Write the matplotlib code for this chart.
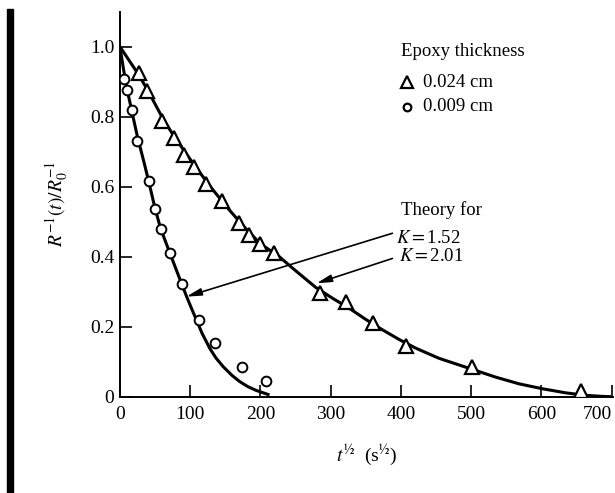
import numpy as np
import matplotlib
matplotlib.use("Agg")
import matplotlib.pyplot as plt
from matplotlib.patches import Rectangle

plt.rcParams['font.family'] = ['Liberation Serif', 'DejaVu Serif']
plt.rcParams['mathtext.fontset'] = 'stix'

# measured points, epoxy 0.024 cm (triangles)
tri_x = [27, 39, 60, 77, 91, 106, 123, 146, 169, 184, 200, 219, 285, 322, 360, 407, 501, 657]
tri_y = [0.925, 0.874, 0.789, 0.740, 0.690, 0.655, 0.608, 0.559, 0.495, 0.462, 0.435, 0.410,
         0.295, 0.270, 0.210, 0.145, 0.086, 0.017]

# measured points, epoxy 0.009 cm (circles)
circ_x = [6, 10, 17, 25, 41, 50, 58, 71, 88, 113, 136, 174, 208]
circ_y = [0.907, 0.876, 0.819, 0.731, 0.617, 0.535, 0.478, 0.412, 0.321, 0.219, 0.153, 0.084, 0.046]

# theory curves
k201_x = [0, 26, 40, 61, 78, 109, 132, 156, 178, 200, 227, 246, 279, 303, 327, 350, 374, 398,
          421, 454, 502, 535, 568, 601, 635, 663, 686, 700]
k201_y = [1.0, 0.922, 0.874, 0.795, 0.741, 0.653, 0.592, 0.533, 0.483, 0.437, 0.400, 0.367,
          0.312, 0.281, 0.252, 0.221, 0.191, 0.163, 0.139, 0.110, 0.078, 0.056, 0.037, 0.023,
          0.011, 0.004, 0.001, 0.0]
k152_x = [0, 5, 10, 17, 25, 34, 41, 50, 58, 71, 88, 95, 102, 109, 117, 128, 137, 147, 159, 170,
          182, 194, 213]
k152_y = [1.0, 0.937, 0.88, 0.815, 0.742, 0.672, 0.615, 0.538, 0.480, 0.411, 0.322, 0.286, 0.252,
          0.219, 0.181, 0.138, 0.110, 0.086, 0.062, 0.044, 0.029, 0.018, 0.005]

xticks = [0, 100, 200, 300, 400, 500, 600, 700]
yticks = [0, 0.2, 0.4, 0.6, 0.8, 1.0]
ytick_labels = ['0', '0.2', '0.4', '0.6', '0.8', '1.0']

fig = plt.figure(figsize=(6.15, 4.93), dpi=100)
ax = fig.add_axes([0.195, 0.1953, 0.8016, 0.781])

ax.plot(k201_x, k201_y, color='black', lw=2.2, solid_capstyle='butt', solid_joinstyle='round', zorder=2)
ax.plot(k152_x, k152_y, color='black', lw=2.2, solid_capstyle='butt', solid_joinstyle='round', zorder=2)
ax.plot(tri_x, tri_y, ls='none', marker='^', ms=10, mfc='white', mec='black', mew=1.6, zorder=3)
ax.plot(circ_x, circ_y, ls='none', marker='o', ms=7, mfc='white', mec='black', mew=1.4, zorder=3)

ax.set_xlim(0, 702)
ax.set_ylim(0, 1.1)
ax.set_xticks(xticks)
ax.set_yticks(yticks)
ax.set_yticklabels(ytick_labels)
ax.tick_params(direction='in', length=8.5, width=1.2, labelsize=14)
ax.tick_params(axis='x', pad=7)
ax.tick_params(axis='y', pad=4)
# last x label sits against the right edge
ax.get_xticklabels()[-1].set_horizontalalignment('right')
for s in ['top', 'right']:
    ax.spines[s].set_visible(False)
for s in ['left', 'bottom']:
    ax.spines[s].set_linewidth(1.4)

ax.set_xlabel(r'$t^{½}$  (s$^{½}$)', fontsize=14)
ax.xaxis.set_label_coords(0.5, -0.12)
ax.set_ylabel(r'$R^{-1}(t)/R_0^{-1}$', fontsize=14)
ax.yaxis.set_label_coords(-0.10, 0.5)

# legend drawn by hand like in the book
ax.text(400, 0.985, 'Epoxy thickness', fontsize=13.5, va='center')
ax.plot([409], [0.899], ls='none', marker='^', ms=8, mfc='white', mec='black', mew=1.6)
ax.text(431, 0.899, '0.024 cm', fontsize=13.5, va='center')
ax.plot([409], [0.828], ls='none', marker='o', ms=5.5, mfc='white', mec='black', mew=1.6)
ax.text(431, 0.828, '0.009 cm', fontsize=13.5, va='center')

ax.text(400, 0.533, 'Theory for', fontsize=13.5, va='center')
ax.text(393, 0.453, r'$K = $1.52', fontsize=13.5, va='center')
ax.text(397, 0.400, r'$K = $2.01', fontsize=13.5, va='center')

arrow = dict(arrowstyle='-|>,head_length=0.9,head_width=0.22', color='black', lw=1.2,
             shrinkA=0, shrinkB=0)
ax.annotate('', xy=(94.6, 0.286), xytext=(388, 0.467), arrowprops=arrow)
ax.annotate('', xy=(280, 0.324), xytext=(388, 0.395), arrowprops=arrow)

# scan edge on the left
fig.patches.append(Rectangle((7 / 615, 0), 6 / 615, 484 / 493, transform=fig.transFigure,
                             color='black'))

fig.savefig('out.png', dpi=100)
